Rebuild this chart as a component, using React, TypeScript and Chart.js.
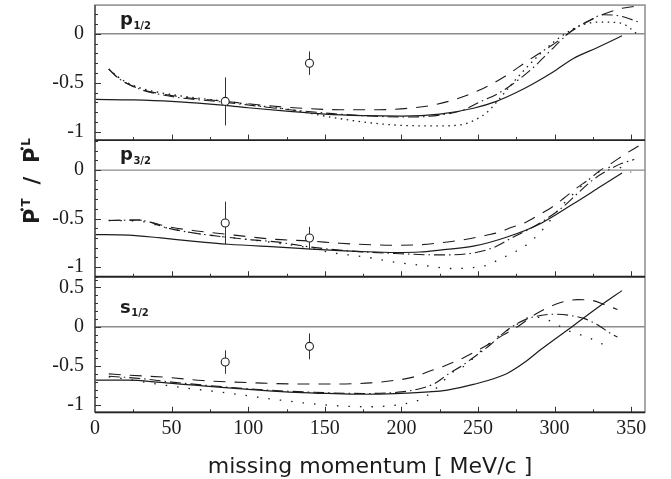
import React, { useEffect, useRef } from "react";
import { Chart, registerables } from "chart.js";

Chart.register(...registerables);

// ---------- data ----------
const X_MIN = 0;
const X_MAX = 359;
const X_TICKS = [0, 50, 100, 150, 200, 250, 300, 350];

const P12_RANGE = [-1.085, 0.293];
const P32_RANGE = [-1.1, 0.31];
const S12_RANGE = [-1.09, 0.637];
const P12_TICKS = [-1, -0.5, 0];
const P32_TICKS = [-1, -0.5, 0];
const S12_TICKS = [-1, -0.5, 0, 0.5];

// p1/2 panel curves [missing momentum, P'T/P'L]
const P12_SOLID: [number, number][] = [[0,-0.67],[25,-0.675],[50,-0.69],[85,-0.73],[100,-0.755],[125,-0.79],[150,-0.82],[175,-0.835],[200,-0.84],[225,-0.82],[247,-0.76],[262,-0.69],[275,-0.6],[286,-0.51],[299,-0.39],[312,-0.255],[328,-0.14],[344,-0.02]];
const P12_DASHED: [number, number][] = [[9,-0.36],[15,-0.45],[20,-0.5],[30,-0.565],[50,-0.63],[85,-0.69],[110,-0.73],[130,-0.755],[160,-0.775],[185,-0.775],[205,-0.76],[220,-0.73],[236,-0.665],[253,-0.56],[268,-0.43],[283,-0.27],[298,-0.12],[312,0.035],[328,0.175],[344,0.26],[352,0.28]];
const P12_DASHDOT: [number, number][] = [[9,-0.36],[15,-0.45],[20,-0.5],[30,-0.57],[50,-0.64],[85,-0.7],[110,-0.745],[130,-0.78],[155,-0.815],[180,-0.84],[205,-0.85],[225,-0.83],[240,-0.78],[252,-0.69],[262,-0.62],[272,-0.52],[285,-0.36],[300,-0.13],[311,0.03],[322,0.13],[332,0.195],[343,0.18],[355,0.12]];
const P12_DOTTED: [number, number][] = [[9,-0.36],[15,-0.44],[20,-0.49],[30,-0.555],[50,-0.62],[85,-0.69],[110,-0.74],[130,-0.78],[150,-0.84],[175,-0.9],[200,-0.935],[225,-0.94],[240,-0.925],[248,-0.88],[256,-0.8],[262,-0.7],[269,-0.57],[275,-0.46],[282,-0.34],[293,-0.17],[304,-0.03],[317,0.085],[330,0.12],[343,0.11],[354,0.0]];
const P12_PTS_X = [85, 140];
const P12_PTS_Y = [-0.69, -0.3];
const P12_ERR = [0.245, 0.12];

// p3/2 panel curves
const P32_SOLID: [number, number][] = [[0,-0.665],[22,-0.67],[43,-0.7],[65,-0.735],[87,-0.765],[120,-0.795],[141,-0.815],[174,-0.84],[196,-0.85],[212,-0.845],[225,-0.825],[247,-0.785],[269,-0.69],[291,-0.55],[312,-0.35],[330,-0.17],[344,-0.03]];
const P32_DASHED: [number, number][] = [[9,-0.52],[28,-0.515],[48,-0.585],[65,-0.625],[85,-0.66],[102,-0.69],[118,-0.715],[139,-0.73],[160,-0.755],[180,-0.77],[196,-0.775],[212,-0.77],[225,-0.75],[240,-0.72],[256,-0.67],[264,-0.64],[272,-0.59],[281,-0.54],[290,-0.46],[298,-0.385],[306,-0.29],[314,-0.19],[322,-0.1],[330,0.0],[338,0.08],[346,0.165],[356,0.26]];
const P32_DASHDOT: [number, number][] = [[9,-0.52],[28,-0.515],[48,-0.6],[65,-0.65],[85,-0.69],[102,-0.72],[118,-0.74],[139,-0.79],[163,-0.83],[196,-0.86],[225,-0.875],[245,-0.86],[260,-0.8],[272,-0.7],[282,-0.62],[293,-0.52],[305,-0.385],[315,-0.24],[325,-0.1],[335,0.0],[344,0.07],[352,0.11]];
const P32_DOTTED: [number, number][] = [[9,-0.52],[28,-0.525],[48,-0.6],[65,-0.65],[85,-0.69],[102,-0.72],[118,-0.75],[139,-0.8],[152,-0.845],[178,-0.9],[196,-0.95],[218,-0.99],[232,-1.015],[247,-1.005],[256,-0.98],[264,-0.92],[272,-0.86],[280,-0.79],[287,-0.7],[293,-0.6],[304,-0.38],[310,-0.28],[323,-0.09],[332,0.01],[340,0.035],[350,-0.02]];
const P32_PTS_X = [85, 140];
const P32_PTS_Y = [-0.545, -0.7];
const P32_ERR = [0.22, 0.115];

// s1/2 panel curves
const S12_SOLID: [number, number][] = [[0,-0.68],[22,-0.68],[43,-0.71],[65,-0.745],[87,-0.78],[109,-0.81],[131,-0.835],[152,-0.85],[174,-0.86],[196,-0.853],[218,-0.83],[229,-0.81],[247,-0.735],[269,-0.595],[280,-0.46],[291,-0.29],[312,0.01],[330,0.27],[344,0.46]];
const S12_DASHED: [number, number][] = [[9,-0.6],[20,-0.615],[47,-0.645],[70,-0.685],[105,-0.715],[135,-0.73],[158,-0.73],[180,-0.715],[195,-0.685],[207,-0.645],[220,-0.555],[228,-0.5],[240,-0.4],[255,-0.245],[266,-0.11],[275,-0.01],[288,0.165],[302,0.295],[315,0.345],[323,0.34],[334,0.27],[341,0.22]];
const S12_DASHDOT: [number, number][] = [[9,-0.63],[30,-0.66],[50,-0.705],[75,-0.75],[100,-0.79],[125,-0.82],[150,-0.84],[175,-0.85],[200,-0.83],[212,-0.79],[222,-0.72],[230,-0.61],[240,-0.49],[250,-0.35],[258,-0.23],[266,-0.09],[273,0.01],[282,0.1],[290,0.14],[300,0.16],[310,0.145],[320,0.1],[330,0.0],[336,-0.08],[341,-0.13]];
const S12_DOTTED: [number, number][] = [[9,-0.64],[20,-0.665],[37,-0.72],[63,-0.79],[81,-0.83],[98,-0.875],[115,-0.92],[141,-0.98],[161,-1.01],[178,-1.02],[196,-1.0],[205,-0.97],[212,-0.93],[220,-0.83],[226,-0.72],[232,-0.6],[241,-0.5],[247,-0.4],[254,-0.27],[264,-0.11],[274,0.01],[282,0.11],[290,0.12],[302,0.02],[310,-0.06],[318,-0.11],[326,-0.17],[334,-0.25]];
const S12_PTS_X = [85, 140];
const S12_PTS_Y = [-0.45, -0.25];
const S12_ERR = [0.15, 0.165];

const X_TITLE = "missing momentum [ MeV/c ]";

// ---------- style ----------
const INK = "#1c1c1c";
const SERIF = '"Liberation Serif", "Times New Roman", serif';
const SANS = '"DejaVu Sans", sans-serif';

const PANELS = [
  { id: "y1", range: P12_RANGE, ticks: P12_TICKS, weight: 135, letter: "p", sub: "1/2", labelDy: 20,
    solid: P12_SOLID, dashed: P12_DASHED, dashdot: P12_DASHDOT, dotted: P12_DOTTED, dotGap: 4.5,
    px: P12_PTS_X, py: P12_PTS_Y, err: P12_ERR },
  { id: "y2", range: P32_RANGE, ticks: P32_TICKS, weight: 136.7, letter: "p", sub: "3/2", labelDy: 20,
    solid: P32_SOLID, dashed: P32_DASHED, dashdot: P32_DASHDOT, dotted: P32_DOTTED, dotGap: 10,
    px: P32_PTS_X, py: P32_PTS_Y, err: P32_ERR },
  { id: "y3", range: S12_RANGE, ticks: S12_TICKS, weight: 135.6, letter: "s", sub: "1/2", labelDy: 36,
    solid: S12_SOLID, dashed: S12_DASHED, dashdot: S12_DASHDOT, dotted: S12_DOTTED, dotGap: 10,
    px: S12_PTS_X, py: S12_PTS_Y, err: S12_ERR },
];

function lineDs(pts: [number, number][], yAxisID: string, dash: number[], width: number) {
  return {
    type: "line" as const,
    data: pts.map(([x, y]) => ({ x, y })),
    yAxisID,
    xAxisID: "x",
    borderColor: INK,
    borderWidth: width,
    borderDash: dash,
    pointRadius: 0,
    fill: false,
    cubicInterpolationMode: "monotone" as const,
    order: 2,
  };
}

function yScale(p: any) {
  return {
    type: "linear",
    position: "left",
    stack: "panels",
    stackWeight: p.weight,
    min: p.range[0],
    max: p.range[1],
    border: { display: false },
    grid: { display: false, drawTicks: false },
    ticks: {
      autoSkip: false,
      padding: 11,
      color: INK,
      font: { family: SERIF, size: 20 },
      callback: (v: number) => String(v),
    },
    afterBuildTicks: (s: any) => {
      s.ticks = p.ticks.map((v: number) => ({ value: v }));
    },
    afterFit: (s: any) => {
      s.width = 95;
      s.paddingTop = 0;
      s.paddingBottom = 0;
    },
  };
}

const framePlugin = {
  id: "frames",
  beforeDatasetsDraw(chart: any) {
    const ctx = chart.ctx;
    const { left, right } = chart.chartArea;
    const xs = chart.scales.x;
    PANELS.forEach((p) => {
      const ys = chart.scales[p.id];
      const y0 = ys.getPixelForValue(0);
      ctx.save();
      ctx.strokeStyle = "#8c8c8c";
      ctx.lineWidth = 1.4;
      ctx.beginPath();
      ctx.moveTo(left, y0);
      ctx.lineTo(right, y0);
      ctx.stroke();
      ctx.strokeStyle = "#333";
      ctx.lineWidth = 1;
      p.px.forEach((x: number, i: number) => {
        const X = Math.round(xs.getPixelForValue(x)) + 0.5;
        ctx.beginPath();
        ctx.moveTo(X, ys.getPixelForValue(p.py[i] - p.err[i]));
        ctx.lineTo(X, ys.getPixelForValue(p.py[i] + p.err[i]));
        ctx.stroke();
      });
      ctx.restore();
    });
  },
  beforeDatasetDraw(chart: any, args: any) {
    const ys = chart.scales[args.meta.yAxisID];
    const { left, right } = chart.chartArea;
    chart.ctx.save();
    chart.ctx.beginPath();
    chart.ctx.rect(left, ys.top, right - left, ys.bottom - ys.top);
    chart.ctx.clip();
  },
  afterDatasetDraw(chart: any) {
    chart.ctx.restore();
  },
  afterDraw(chart: any) {
    const ctx = chart.ctx;
    const { left, right, top, bottom } = chart.chartArea;
    const xs = chart.scales.x;
    ctx.save();
    // outer frame (light)
    ctx.strokeStyle = "#8c8c8c";
    ctx.lineWidth = 1.5;
    ctx.strokeRect(left, top, right - left, bottom - top);
    // left axis
    ctx.strokeStyle = "#444";
    ctx.lineWidth = 1.3;
    ctx.beginPath();
    ctx.moveTo(left, top);
    ctx.lineTo(left, bottom);
    ctx.stroke();

    PANELS.forEach((p) => {
      const ys = chart.scales[p.id];
      // panel bottom separator
      ctx.strokeStyle = "#222";
      ctx.lineWidth = 1.8;
      ctx.beginPath();
      ctx.moveTo(left, ys.bottom);
      ctx.lineTo(right, ys.bottom);
      ctx.stroke();
      // x ticks at panel bottom
      ctx.lineWidth = 1;
      ctx.strokeStyle = "#333";
      for (let v = 25; v < X_MAX; v += 25) {
        const X = Math.round(xs.getPixelForValue(v)) + 0.5;
        const len = v % 50 === 0 ? 5.5 : 3;
        ctx.beginPath();
        ctx.moveTo(X, ys.bottom);
        ctx.lineTo(X, ys.bottom - len);
        ctx.stroke();
      }
      // y ticks
      const lo = Math.ceil(p.range[0] * 10 - 1e-6);
      const hi = Math.floor(p.range[1] * 10 + 1e-6);
      for (let k = lo; k <= hi; k++) {
        const Y = Math.round(ys.getPixelForValue(k / 10)) + 0.5;
        const len = k % 5 === 0 ? 6 : 3;
        ctx.beginPath();
        ctx.moveTo(left, Y);
        ctx.lineTo(left + len, Y);
        ctx.stroke();
      }
      // panel label
      ctx.fillStyle = INK;
      ctx.textAlign = "left";
      ctx.textBaseline = "alphabetic";
      ctx.font = `bold 18px ${SANS}`;
      const lx = left + 25;
      const ly = ys.top + p.labelDy;
      ctx.fillText(p.letter, lx, ly);
      const w = ctx.measureText(p.letter).width;
      ctx.font = `bold 10px ${SANS}`;
      ctx.fillText(p.sub, lx + w + 0.5, ly + 3.5);
    });

    // x title
    ctx.fillStyle = INK;
    ctx.font = `22px ${SANS}`;
    ctx.textAlign = "center";
    ctx.textBaseline = "alphabetic";
    ctx.fillText(X_TITLE, (left + right) / 2, 473);

    // y title  P'T / P'L (rotated)
    ctx.translate(31, 181);
    ctx.rotate(-Math.PI / 2);
    const big = `bold 21px ${SANS}`;
    const small = `bold 12px ${SANS}`;
    ctx.textAlign = "left";
    ctx.font = big;
    const wP = ctx.measureText("P").width;
    const wS = ctx.measureText("/").width;
    ctx.font = small;
    const wT = ctx.measureText("T").width;
    const wL = ctx.measureText("L").width;
    const target = 86;
    const gap = (target - (2 * wP + wS + wT + wL + 4)) / 2;
    let u = -target / 2;
    const base = 8;
    const drawPrimed = (sup: string, wSup: number) => {
      ctx.font = big;
      ctx.fillText("P", u, base);
      ctx.beginPath();
      ctx.arc(u + wP - 1, base - 17, 1.6, 0, Math.PI * 2);
      ctx.fill();
      u += wP + 2;
      ctx.font = small;
      ctx.fillText(sup, u, base - 9);
      u += wSup;
    };
    drawPrimed("T", wT);
    u += gap;
    ctx.font = big;
    ctx.fillText("/", u, base);
    u += wS + gap;
    drawPrimed("L", wL);
    ctx.restore();
  },
};

export default function App() {
  const ref = useRef<HTMLCanvasElement>(null);
  useEffect(() => {
    const datasets: any[] = [];
    PANELS.forEach((p) => {
      datasets.push({
        type: "scatter",
        data: p.px.map((x: number, i: number) => ({ x, y: p.py[i] })),
        yAxisID: p.id,
        xAxisID: "x",
        pointRadius: 4,
        pointBackgroundColor: "#fff",
        pointBorderColor: "#222",
        pointBorderWidth: 1.1,
        showLine: false,
        order: 0,
      });
      datasets.push(lineDs(p.solid, p.id, [], 1.2));
      datasets.push(lineDs(p.dashed, p.id, [12, 9], 1.1));
      datasets.push(lineDs(p.dashdot, p.id, [11, 4, 1.5, 4], 1.1));
      datasets.push(lineDs(p.dotted, p.id, [1.5, p.dotGap], 1.3));
    });
    const scales: any = {
      x: {
        type: "linear",
        position: "bottom",
        min: X_MIN,
        max: X_MAX,
        border: { display: false },
        grid: { display: false, drawTicks: false },
        ticks: {
          autoSkip: false,
          maxRotation: 0,
          padding: 4,
          color: INK,
          font: { family: SERIF, size: 20 },
          callback: (v: number) => String(v),
        },
        afterBuildTicks: (s: any) => {
          s.ticks = X_TICKS.map((v) => ({ value: v }));
        },
        afterFit: (s: any) => {
          s.height = 66.7;
          s.paddingLeft = 0;
          s.paddingRight = 0;
        },
      },
      y3: yScale(PANELS[2]),
      y2: yScale(PANELS[1]),
      y1: yScale(PANELS[0]),
    };
    const chart = new Chart(ref.current as HTMLCanvasElement, {
      type: "line",
      data: { datasets },
      options: {
        responsive: false,
        animation: false,
        devicePixelRatio: 1,
        layout: { padding: { left: 0, right: 26, top: 5, bottom: 0 } },
        plugins: { legend: { display: false }, tooltip: { enabled: false }, title: { display: false } },
        scales,
      } as any,
      plugins: [framePlugin],
    });
    return () => chart.destroy();
  }, []);
  return (
    <div style={{ position: "absolute", left: 0, top: 0, width: 671, height: 479, background: "#fff" }}>
      <canvas ref={ref} width={671} height={479} style={{ display: "block", width: 671, height: 479 }} />
    </div>
  );
}
